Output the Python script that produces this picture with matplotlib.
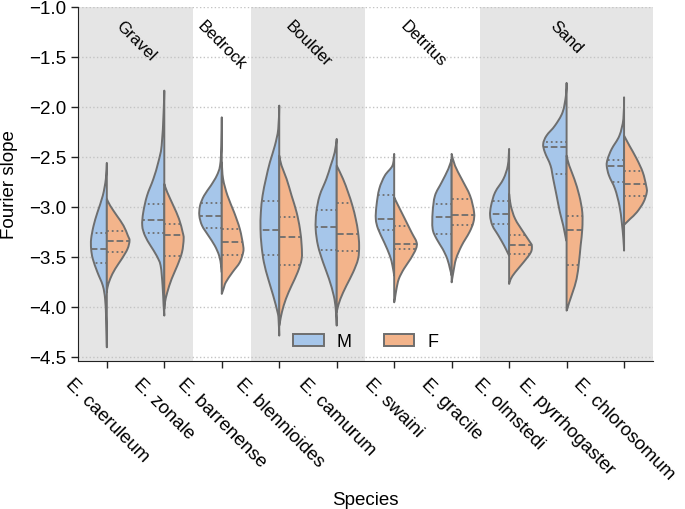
import numpy as np
import matplotlib.pyplot as plt
from matplotlib.patches import Patch, PathPatch
from matplotlib.path import Path

plt.rcParams['font.family'] = ['Liberation Sans', 'DejaVu Sans']

# species on the x axis and the habitat each one belongs to
species = ['E. caeruleum', 'E. zonale', 'E. barrenense', 'E. blennioides',
           'E. camurum', 'E. swaini', 'E. gracile', 'E. olmstedi',
           'E. pyrrhogaster', 'E. chlorosomum']
species_habitat = ['Gravel', 'Gravel', 'Bedrock', 'Boulder', 'Boulder',
                   'Detritus', 'Detritus', 'Sand', 'Sand', 'Sand']
sexes = ['M', 'F']

# quartiles: [q1, median, q3]
m_quartiles = [[-3.563, -3.423, -3.263], [-3.26, -3.133, -2.977],
               [-3.21, -3.09, -2.96], [-3.48, -3.233, -2.943],
               [-3.43, -3.2, -3.033], [-3.233, -3.12, -2.88],
               [-3.273, -3.107, -2.973], [-3.173, -3.077, -2.94],
               [-2.673, -2.403, -2.35], [-2.75, -2.59, -2.53]]
f_quartiles = [[-3.45, -3.343, -3.24], [-3.49, -3.287, -3.177],
               [-3.48, -3.35, -3.223], [-3.58, -3.3, -3.107],
               [-3.443, -3.277, -2.963], [-3.423, -3.37, -3.19],
               [-3.183, -3.083, -2.923], [-3.47, -3.383, -3.287],
               [-3.58, -3.233, -3.09], [-2.897, -2.777, -2.64]]

# density outline of each half violin: [fourier slope, half width]
m_profiles = [
    [[-2.563, 0], [-2.723, 0.017], [-2.89, 0.07], [-3.057, 0.163], [-3.19, 0.23],
     [-3.323, 0.273], [-3.423, 0.273], [-3.523, 0.244], [-3.657, 0.163],
     [-3.79, 0.07], [-3.923, 0.03], [-4.123, 0.012], [-4.407, 0]],
    [[-1.84, 0], [-2.057, 0.012], [-2.39, 0.046], [-2.557, 0.105], [-2.723, 0.19],
     [-2.89, 0.3], [-3.057, 0.366], [-3.19, 0.384], [-3.29, 0.337], [-3.39, 0.24],
     [-3.49, 0.134], [-3.59, 0.064], [-3.79, 0.03], [-3.99, 0.012], [-4.09, 0]],
    [[-2.107, 0], [-2.39, 0.006], [-2.59, 0.03], [-2.69, 0.087], [-2.79, 0.19],
     [-2.89, 0.308], [-2.99, 0.378], [-3.09, 0.39], [-3.19, 0.343], [-3.29, 0.233],
     [-3.39, 0.122], [-3.49, 0.046], [-3.59, 0.012], [-3.657, 0]],
    [[-1.99, 0], [-2.223, 0.017], [-2.39, 0.076], [-2.557, 0.163], [-2.723, 0.232],
     [-2.89, 0.29], [-3.057, 0.32], [-3.223, 0.326], [-3.39, 0.308], [-3.557, 0.267],
     [-3.723, 0.192], [-3.89, 0.105], [-4.057, 0.029], [-4.123, 0.012], [-4.29, 0]],
    [[-2.323, 0], [-2.457, 0.035], [-2.59, 0.105], [-2.723, 0.18], [-2.89, 0.297],
     [-3.057, 0.355], [-3.223, 0.366], [-3.39, 0.326], [-3.557, 0.238],
     [-3.723, 0.134], [-3.89, 0.052], [-4.023, 0.017], [-4.19, 0]],
    [[-2.473, 0], [-2.59, 0.03], [-2.69, 0.163], [-2.823, 0.26], [-2.99, 0.308],
     [-3.123, 0.32], [-3.223, 0.28], [-3.357, 0.174], [-3.49, 0.076],
     [-3.59, 0.03], [-3.69, 0]],
    [[-2.523, 0], [-2.623, 0.058], [-2.757, 0.174], [-2.89, 0.29], [-3.057, 0.331],
     [-3.223, 0.331], [-3.323, 0.262], [-3.423, 0.157], [-3.523, 0.076],
     [-3.623, 0.029], [-3.69, 0]],
    [[-2.423, 0], [-2.59, 0.023], [-2.723, 0.099], [-2.857, 0.244], [-2.99, 0.314],
     [-3.09, 0.331], [-3.19, 0.29], [-3.29, 0.186], [-3.39, 0.087],
     [-3.457, 0.029], [-3.49, 0]],
    [[-1.763, 0], [-1.89, 0.012], [-2.057, 0.07], [-2.19, 0.203], [-2.29, 0.349],
     [-2.373, 0.407], [-2.457, 0.378], [-2.59, 0.279], [-2.723, 0.233],
     [-2.89, 0.174], [-3.057, 0.116], [-3.19, 0.058], [-3.323, 0.012], [-3.34, 0]],
    [[-1.907, 0], [-2.123, 0.012], [-2.29, 0.081], [-2.423, 0.215], [-2.523, 0.285],
     [-2.59, 0.302], [-2.69, 0.262], [-2.823, 0.157], [-2.99, 0.081],
     [-3.157, 0.04], [-3.323, 0.012], [-3.44, 0]],
]
f_profiles = [
    [[-2.923, 0], [-2.99, 0.058], [-3.09, 0.174], [-3.19, 0.29], [-3.29, 0.366],
     [-3.34, 0.395], [-3.423, 0.36], [-3.523, 0.26], [-3.623, 0.145],
     [-3.723, 0.058], [-3.807, 0.012], [-3.857, 0]],
    [[-2.773, 0], [-2.857, 0.052], [-2.99, 0.157], [-3.123, 0.256], [-3.257, 0.32],
     [-3.323, 0.337], [-3.457, 0.308], [-3.59, 0.227], [-3.723, 0.128],
     [-3.857, 0.052], [-3.957, 0.012], [-4.023, 0]],
    [[-2.557, 0], [-2.723, 0.023], [-2.89, 0.1], [-3.057, 0.215], [-3.223, 0.314],
     [-3.39, 0.372], [-3.457, 0.372], [-3.557, 0.314], [-3.657, 0.186],
     [-3.757, 0.07], [-3.823, 0.03], [-3.873, 0]],
    [[-2.49, 0], [-2.59, 0.04], [-2.723, 0.128], [-2.89, 0.215], [-3.057, 0.302],
     [-3.223, 0.36], [-3.39, 0.39], [-3.523, 0.39], [-3.657, 0.32], [-3.79, 0.215],
     [-3.923, 0.116], [-4.057, 0.046], [-4.157, 0.012], [-4.19, 0]],
    [[-2.59, 0], [-2.723, 0.11], [-2.857, 0.198], [-2.99, 0.273], [-3.123, 0.331],
     [-3.257, 0.372], [-3.39, 0.39], [-3.523, 0.372], [-3.657, 0.285],
     [-3.79, 0.169], [-3.923, 0.064], [-4.023, 0.012], [-4.057, 0]],
    [[-2.907, 0], [-2.99, 0.07], [-3.123, 0.186], [-3.257, 0.302], [-3.357, 0.39],
     [-3.423, 0.378], [-3.523, 0.285], [-3.623, 0.169], [-3.723, 0.081],
     [-3.823, 0.04], [-3.923, 0.012], [-3.957, 0]],
    [[-2.473, 0], [-2.59, 0.058], [-2.723, 0.174], [-2.89, 0.32], [-3.057, 0.39],
     [-3.157, 0.378], [-3.257, 0.308], [-3.39, 0.174], [-3.523, 0.076],
     [-3.657, 0.029], [-3.757, 0]],
    [[-2.873, 0], [-2.99, 0.029], [-3.123, 0.105], [-3.257, 0.25], [-3.357, 0.366],
     [-3.39, 0.395], [-3.457, 0.378], [-3.557, 0.25], [-3.657, 0.105],
     [-3.723, 0.029], [-3.773, 0]],
    [[-2.49, 0], [-2.59, 0.046], [-2.723, 0.134], [-2.89, 0.221], [-3.057, 0.273],
     [-3.223, 0.273], [-3.39, 0.244], [-3.557, 0.215], [-3.723, 0.174],
     [-3.857, 0.105], [-3.957, 0.046], [-4.023, 0.012], [-4.04, 0]],
    [[-2.29, 0], [-2.39, 0.093], [-2.523, 0.221], [-2.657, 0.326], [-2.79, 0.384],
     [-2.857, 0.395], [-2.957, 0.337], [-3.057, 0.221], [-3.123, 0.105],
     [-3.173, 0.017], [-3.18, 0]],
]

colors = {'M': '#a6c6ea', 'F': '#f3b48b'}
gray = '#6e6e6e'

fig = plt.figure(figsize=(6.85, 5.10), dpi=100)
ax = fig.add_axes([0.114, 0.290, 0.839, 0.695])


def smooth_outline(x0, xs, vs, side):
    # Catmull-Rom through the read points, drawn as cubic Bezier segments
    pts = np.column_stack([xs, vs])
    ext = np.vstack([pts[0], pts, pts[-1]])
    verts = [tuple(pts[0])]
    codes = [Path.MOVETO]
    for k in range(len(pts) - 1):
        p0, p1, p2, p3 = ext[k], ext[k + 1], ext[k + 2], ext[k + 3]
        c1 = p1 + (p2 - p0) / 6
        c2 = p2 - (p3 - p1) / 6
        c1[0] = x0 + side * max(side * (c1[0] - x0), 0)
        c2[0] = x0 + side * max(side * (c2[0] - x0), 0)
        verts += [tuple(c1), tuple(c2), tuple(p2)]
        codes += [Path.CURVE4] * 3
    verts += [tuple(pts[0])]
    codes += [Path.CLOSEPOLY]
    return Path(verts, codes)


def draw_half(x0, prof, quart, side, color):
    v = np.array([p[0] for p in prof])
    w = np.array([p[1] for p in prof])
    path = smooth_outline(x0, x0 + side * w, v, side)
    ax.add_patch(PathPatch(path, facecolor=color, edgecolor=gray, lw=1.4,
                           joinstyle='round', zorder=2))
    for k, q in enumerate(quart):
        wq = np.interp(q, v[::-1], w[::-1])
        ax.plot([x0, x0 + side * wq], [q, q], color=gray, lw=1.3,
                ls='--' if k == 1 else ':', zorder=3)


for i in range(len(species)):
    draw_half(i, m_profiles[i], m_quartiles[i], -1, colors['M'])
    draw_half(i, f_profiles[i], f_quartiles[i], 1, colors['F'])

# habitat bands
habitats = []
for h in species_habitat:
    if h not in habitats:
        habitats.append(h)
for j, h in enumerate(habitats):
    idx = [i for i, s in enumerate(species_habitat) if s == h]
    lo, hi = min(idx) - 0.5, max(idx) + 0.5
    if j % 2 == 0:
        ax.axvspan(lo, hi, color='#e5e5e5', zorder=0, lw=0)
    ax.text((lo + hi) / 2, -1.11, h, rotation=-45, ha='center', va='top',
            fontsize=12)

ax.set_xlim(-0.5, len(species) - 0.5)
ax.set_ylim(-4.545, -1.0)
yt = np.arange(-4.5, -0.99, 0.5)
ax.set_yticks(yt)
ax.set_yticklabels([f'\u2212{abs(t):.1f}' for t in yt])
ax.set_xticks(range(len(species)))
ax.set_xticklabels(species, rotation=-45, ha='center')
ax.tick_params(labelsize=13.5, length=5, width=1, color='#222222')
ax.tick_params(axis='x', pad=5)
ax.set_axisbelow(True)
ax.grid(axis='y', ls=':', color='#c4c4c4', lw=1)
for s in ['top', 'right']:
    ax.spines[s].set_visible(False)
for s in ['left', 'bottom']:
    ax.spines[s].set_color('#222222')
ax.set_xlabel('Species', fontsize=13.5, labelpad=6)
ax.set_ylabel('Fourier slope', fontsize=13.5)
ax.yaxis.set_label_coords(-0.104, 0.5)

handles = [Patch(facecolor=colors[s], edgecolor=gray, lw=1.4, label=s) for s in sexes]
ax.legend(handles=handles, ncol=2, loc='lower center', frameon=False,
          fontsize=13, handlelength=1.7, handleheight=0.6, handletextpad=0.7,
          columnspacing=1.8, bbox_to_anchor=(0.5, -0.015))

fig.savefig('out.png', dpi=100)
